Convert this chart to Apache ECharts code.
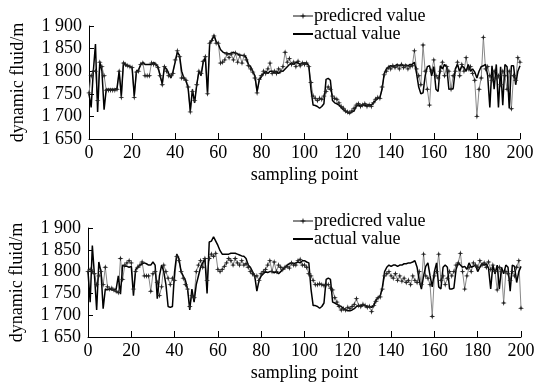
<!DOCTYPE html>
<html>
<head>
<meta charset="utf-8">
<script src="https://cdn.jsdelivr.net/npm/echarts@6/dist/echarts.min.js"></script>
<style>
  html, body { margin: 0; padding: 0; background: #fff; }
  #chart { width: 546px; height: 386px; }
</style>
</head>
<body>
<div id="chart"></div>
<script>
// sampling points 0..200
const samplePoints = Array.from({ length: 201 }, (_, i) => i);

const xTicks = [0, 20, 40, 60, 80, 100, 120, 140, 160, 180, 200];
const yTicks = [1650, 1700, 1750, 1800, 1850, 1900];

// upper panel
const actualTop = [
  1750, 1720, 1800, 1860, 1710, 1820, 1800, 1715, 1760, 1760,
  1760, 1760, 1760, 1762, 1800, 1745, 1820, 1812, 1812, 1810,
  1808, 1745, 1800, 1803, 1815, 1820, 1815, 1815, 1815, 1815,
  1820, 1815, 1810, 1790, 1772, 1810, 1805, 1795, 1785, 1800,
  1820, 1842, 1835, 1800, 1785, 1780, 1762, 1712, 1760, 1730,
  1770, 1800, 1790, 1820, 1830, 1750, 1862, 1868, 1880, 1866,
  1860, 1848, 1843, 1840, 1840, 1838, 1840, 1842, 1840, 1838,
  1836, 1835, 1835, 1830, 1815, 1810, 1800, 1790, 1755, 1780,
  1788, 1795, 1800, 1795, 1800, 1800, 1797, 1800, 1795, 1800,
  1800, 1805, 1810, 1815, 1818, 1815, 1820, 1818, 1815, 1818,
  1818, 1818, 1812, 1760, 1725, 1724, 1722, 1718, 1722, 1728,
  1782, 1784, 1780, 1735, 1730, 1728, 1725, 1720, 1715, 1712,
  1708, 1707, 1710, 1712, 1722, 1725, 1724, 1726, 1724, 1725,
  1726, 1725, 1730, 1735, 1740, 1742, 1760, 1795, 1805, 1810,
  1812, 1810, 1812, 1815, 1812, 1815, 1812, 1814, 1812, 1815,
  1815, 1820, 1795, 1765, 1750, 1752, 1790, 1810, 1812, 1790,
  1810, 1760, 1755, 1812, 1805, 1815, 1810, 1760, 1760, 1762,
  1805, 1815, 1800, 1812, 1808, 1800, 1815, 1800, 1805, 1798,
  1785, 1800, 1810, 1812, 1815, 1790, 1720, 1812, 1760, 1815,
  1720, 1810, 1725, 1815, 1810, 1718, 1812, 1812, 1770, 1800,
  1812
];
const predictedTop = [
  1752, 1790, 1800, 1800, 1735, 1820, 1810, 1790, 1758, 1758,
  1758, 1758, 1758, 1760, 1800, 1742, 1818, 1815, 1812, 1810,
  1808, 1742, 1798, 1800, 1815, 1818, 1790, 1790, 1790, 1818,
  1815, 1815, 1808, 1790, 1770, 1810, 1800, 1790, 1790, 1795,
  1825, 1845, 1832, 1785, 1785, 1780, 1765, 1710, 1755, 1735,
  1770, 1800, 1795, 1822, 1832, 1750, 1862, 1868, 1878, 1862,
  1862, 1818, 1820, 1825, 1838, 1830, 1838, 1825, 1840, 1820,
  1835, 1818, 1835, 1825, 1812, 1805, 1798, 1785, 1752, 1782,
  1790, 1800, 1795, 1805, 1818, 1795, 1800, 1795, 1805, 1800,
  1810, 1842, 1820, 1828, 1815, 1820, 1810, 1822, 1812, 1818,
  1815, 1818, 1810, 1775, 1745, 1740, 1735, 1740, 1738, 1745,
  1755, 1765, 1760, 1745, 1740, 1738, 1730, 1722, 1718, 1712,
  1710, 1708, 1712, 1718, 1725, 1728, 1722, 1725, 1728, 1722,
  1725, 1722, 1730, 1738, 1742, 1740, 1765, 1792, 1800, 1808,
  1805, 1812, 1808, 1812, 1805, 1815, 1808, 1812, 1805, 1810,
  1812, 1845, 1805, 1790, 1770, 1858, 1800, 1760, 1725, 1800,
  1825, 1790, 1785, 1800, 1820, 1790, 1810, 1800, 1760, 1790,
  1800, 1820, 1790, 1815, 1800, 1830, 1805, 1810, 1795, 1780,
  1700, 1760, 1785, 1875, 1805, 1810, 1790, 1780, 1800, 1785,
  1790, 1770, 1800, 1790, 1760, 1800, 1717, 1790, 1780, 1830,
  1820
];

// lower panel
const actualBottom = [
  1800, 1730, 1860, 1790, 1712, 1822, 1800, 1715, 1760, 1758,
  1760, 1758, 1758, 1760, 1790, 1748, 1815, 1812, 1812, 1810,
  1812, 1745, 1805, 1810, 1815, 1818, 1820, 1818, 1815, 1815,
  1822, 1815, 1738, 1790, 1815, 1800, 1770, 1720, 1718, 1720,
  1800, 1840, 1830, 1800, 1790, 1780, 1760, 1712, 1760, 1730,
  1770, 1790, 1810, 1820, 1830, 1750, 1868, 1870, 1880, 1870,
  1860, 1848, 1840, 1840, 1840, 1840, 1842, 1842, 1842, 1840,
  1838, 1836, 1835, 1830, 1815, 1810, 1800, 1790, 1755, 1780,
  1790, 1795, 1800, 1798, 1800, 1800, 1797, 1800, 1795, 1800,
  1805, 1810, 1815, 1818, 1820, 1818, 1820, 1822, 1820, 1825,
  1825, 1822, 1820, 1760, 1722, 1722, 1720, 1716, 1720, 1728,
  1782, 1785, 1782, 1730, 1728, 1725, 1722, 1720, 1715, 1712,
  1710, 1710, 1712, 1715, 1720, 1722, 1722, 1724, 1722, 1720,
  1720, 1718, 1722, 1735, 1740, 1745, 1765, 1800, 1810, 1815,
  1812, 1815, 1815, 1812, 1815, 1815, 1818, 1818, 1820, 1820,
  1822, 1825, 1810, 1780, 1760, 1790, 1812, 1820, 1790, 1765,
  1800, 1820, 1765, 1760, 1810, 1815, 1810, 1760, 1760, 1762,
  1805, 1820, 1815, 1810, 1812, 1805, 1820, 1810, 1812, 1815,
  1800, 1810, 1818, 1815, 1818, 1808, 1760, 1815, 1795, 1815,
  1760, 1810, 1795, 1815, 1810, 1755, 1815, 1812, 1775, 1800,
  1812
];
const predictedBottom = [
  1800, 1805, 1800, 1795, 1770, 1790, 1800, 1770, 1810, 1765,
  1760, 1762, 1758, 1755, 1752, 1830, 1782, 1815, 1820, 1825,
  1820, 1760, 1800, 1810, 1815, 1822, 1790, 1790, 1790, 1755,
  1795, 1800, 1775, 1745, 1765, 1815, 1800, 1785, 1770, 1785,
  1780, 1835, 1825, 1800, 1785, 1770, 1760, 1720, 1745, 1740,
  1800, 1815, 1825, 1810, 1830, 1780, 1830, 1840, 1835, 1842,
  1805, 1800, 1805, 1812, 1820, 1830, 1825, 1815, 1830, 1820,
  1815, 1825, 1815, 1818, 1810, 1800, 1795, 1790, 1790, 1780,
  1795, 1800, 1805, 1815, 1825, 1800, 1822, 1800, 1815, 1810,
  1805, 1810, 1812, 1808, 1820, 1815, 1815, 1825, 1828, 1815,
  1815, 1810, 1795, 1790, 1780, 1770, 1770, 1772, 1770, 1768,
  1770, 1770, 1762, 1758, 1740, 1730, 1720, 1712, 1715, 1712,
  1718, 1715, 1720, 1725, 1738, 1722, 1720, 1725, 1722, 1718,
  1720, 1708, 1722, 1732, 1740, 1742, 1760, 1790, 1795, 1800,
  1790, 1785, 1795, 1780, 1790, 1778, 1785, 1775, 1780, 1770,
  1790, 1780, 1775, 1800, 1770, 1840, 1790, 1785, 1770, 1697,
  1790, 1800, 1840, 1780, 1790, 1770, 1785, 1800, 1790, 1800,
  1815, 1820, 1842, 1800, 1760, 1790, 1810, 1800, 1820, 1815,
  1810, 1825, 1815, 1820, 1810, 1822, 1805, 1815, 1800, 1758,
  1810, 1800, 1728, 1800, 1795, 1780, 1800, 1790, 1810, 1825,
  1716
];

const seriesNames = ['predicred value', 'actual value'];
const yAxisName = 'dynamic fluid/m';
const xAxisName = 'sampling point';

const chart = echarts.init(document.getElementById('chart'));

const font = 'Liberation Serif';
const plusMark = 'path://M0,-1 L0.22,-0.22 L1,0 L0.22,0.22 L0,1 L-0.22,0.22 L-1,0 L-0.22,-0.22 Z';
const hidden = 'rgba(0,0,0,0)';

// zero-width suffix keeps the names of the two panels apart
const tag = idx => '\u200b'.repeat(idx);

function pair(xs, ys) {
  return xs.map((x, i) => [x, ys[i]]);
}

function xAxisFor(idx) {
  return {
    type: 'value', gridIndex: idx, min: 0, max: 200, interval: 20,
    name: xAxisName, nameLocation: 'middle', nameGap: 27,
    nameTextStyle: { fontFamily: font, fontSize: 18, color: '#000' },
    axisLine: { lineStyle: { color: '#000', width: 1 } },
    axisTick: { inside: true, length: 6, lineStyle: { color: '#000' } },
    axisLabel: {
      fontFamily: font, fontSize: 18, color: '#000', margin: 5,
      formatter: v => xTicks.includes(v) ? String(v) : ''
    },
    splitLine: { show: false }
  };
}

function yAxisFor(idx) {
  return {
    type: 'value', gridIndex: idx, min: 1650, max: 1900, interval: 50,
    name: yAxisName, nameLocation: 'middle', nameRotate: 90, nameGap: 62,
    nameTextStyle: { fontFamily: font, fontSize: 18, color: '#000' },
    axisLine: { show: true, lineStyle: { color: '#000', width: 1 } },
    axisTick: { show: true, inside: true, length: 5, lineStyle: { color: '#000' } },
    axisLabel: {
      fontFamily: font, fontSize: 18, color: '#000', margin: 7,
      formatter: v => yTicks.includes(v) ? String(v).replace(/\B(?=(\d{3})+(?!\d))/g, ' ') : ''
    },
    splitLine: { show: false }
  };
}

function legendFor(idx, top) {
  return {
    show: true,
    orient: 'vertical', left: 292, top: top, padding: 0,
    itemWidth: 20, itemHeight: 8, itemGap: 0,
    textStyle: { fontFamily: font, fontSize: 18, color: '#000', padding: [0, 0, 0, -4] },
    data: [
      { name: seriesNames[0] + tag(idx) },
      { name: seriesNames[1] + tag(idx), itemStyle: { color: hidden, borderColor: hidden, borderWidth: 0 } }
    ]
  };
}

function predictedSeries(idx, data) {
  return {
    name: seriesNames[0] + tag(idx),
    type: 'line', xAxisIndex: idx, yAxisIndex: idx,
    data: pair(samplePoints, data),
    symbol: plusMark, symbolSize: 6, showSymbol: true,
    itemStyle: { color: '#222' },
    lineStyle: { color: '#888', width: 1 },
    emphasis: { disabled: true },
    animation: false
  };
}

function actualSeries(idx, data) {
  return {
    name: seriesNames[1] + tag(idx),
    type: 'line', xAxisIndex: idx, yAxisIndex: idx,
    data: pair(samplePoints, data),
    symbol: 'none',
    itemStyle: { color: '#000' },
    lineStyle: { color: '#000', width: 1.5 },
    emphasis: { disabled: true },
    animation: false
  };
}

chart.setOption({
  backgroundColor: '#fff',
  animation: false,
  legend: [legendFor(0, 7), legendFor(1, 212)],
  grid: [
    { left: 89, top: 26, width: 431, height: 113 },
    { left: 88, top: 228, width: 433, height: 109 }
  ],
  xAxis: [xAxisFor(0), xAxisFor(1)],
  yAxis: [yAxisFor(0), yAxisFor(1)],
  series: [
    predictedSeries(0, predictedTop),
    actualSeries(0, actualTop),
    predictedSeries(1, predictedBottom),
    actualSeries(1, actualBottom)
  ]
});
</script>
</body>
</html>
